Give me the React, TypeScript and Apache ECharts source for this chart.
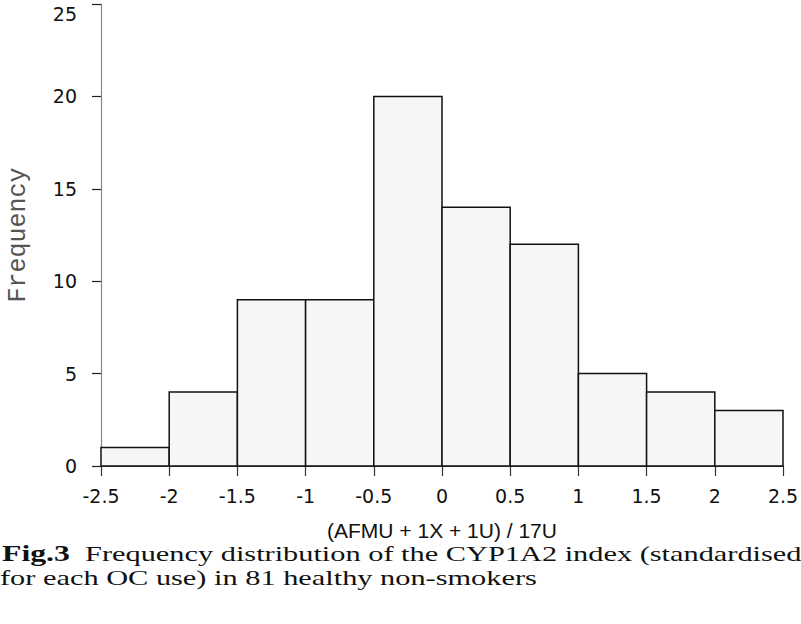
import React, { useEffect, useRef } from "react";
import * as echarts from "echarts";

const binStarts = [-2.5, -2, -1.5, -1, -0.5, 0, 0.5, 1, 1.5, 2];
const binWidth = 0.5;
const frequencies = [1, 4, 9, 9, 20, 14, 12, 5, 4, 3];
const xTitle = "(AFMU + 1X + 1U) / 17U";
const yTitle = "Frequency";
const captionBold = "Fig.3";
const captionLine1 = "Frequency distribution of the CYP1A2 index (standardised";
const captionLine2 = "for each OC use) in 81 healthy non-smokers";

export default function App() {
  const ref = useRef<HTMLDivElement>(null);
  useEffect(() => {
    if (!ref.current) return;
    const chart = echarts.init(ref.current, undefined, { renderer: "svg" });
    const data = binStarts.map((s, i) => [s, s + binWidth, frequencies[i]]);
    chart.setOption({
      animation: false,
      backgroundColor: "#ffffff",
      grid: {
        left: 101,
        right: 18,
        top: 4,
        bottom: 158,
        containLabel: false,
        outerBoundsMode: "none",
      },
      xAxis: {
        type: "value",
        min: -2.5,
        max: 2.5,
        interval: 0.5,
        axisLine: { show: true, onZero: false, lineStyle: { color: "#111", width: 1.5 } },
        axisTick: { show: true, length: 10, lineStyle: { color: "#333", width: 1.2 } },
        axisLabel: {
          margin: 20,
          fontFamily: "DejaVu Sans",
          fontSize: 19,
          color: "#111",
          formatter: (v: number) => String(v),
        },
        splitLine: { show: false },
        name: xTitle,
        nameLocation: "middle",
        nameGap: 54,
        nameTextStyle: { fontFamily: "Liberation Sans", fontSize: 21, color: "#111" },
      },
      yAxis: {
        type: "value",
        min: 0,
        max: 25,
        interval: 5,
        axisLine: { show: true, onZero: false, lineStyle: { color: "#888", width: 1.2 } },
        axisTick: { show: true, length: 9, lineStyle: { color: "#222", width: 1.2 } },
        axisLabel: {
          margin: 24,
          fontFamily: "DejaVu Sans",
          fontSize: 19,
          color: "#111",
          verticalAlignMaxLabel: "top",
        },
        splitLine: { show: false },
        name: yTitle,
        nameLocation: "middle",
        nameGap: 72,
        nameTextStyle: {
          fontFamily: "Liberation Mono",
          fontSize: 25,
          lineHeight: 22,
          color: "#555",
        },
      },
      series: [
        {
          type: "custom",
          data,
          encode: { x: [0, 1], y: 2 },
          renderItem: (params: any, api: any) => {
            const p0 = api.coord([api.value(0), api.value(2)]);
            const p1 = api.coord([api.value(1), 0]);
            return {
              type: "rect",
              shape: { x: p0[0], y: p0[1], width: p1[0] - p0[0], height: p1[1] - p0[1] },
              style: { fill: "#f6f6f6", stroke: "#111", lineWidth: 1.5 },
            };
          },
        },
      ],
      graphic: [
        {
          type: "text",
          x: 2,
          y: 542,
          scaleX: 1.38,
          style: {
            text: "{b|" + captionBold + "}  " + captionLine1,
            fontFamily: "Liberation Serif",
            fontSize: 22,
            fill: "#111",
            rich: {
              b: { fontFamily: "Liberation Serif", fontSize: 23, fontWeight: "bold", fill: "#111" },
            },
          },
        },
        {
          type: "text",
          x: 0,
          y: 567,
          scaleX: 1.38,
          style: {
            text: captionLine2,
            fontFamily: "Liberation Serif",
            fontSize: 22,
            fill: "#111",
          },
        },
      ],
    });
    return () => chart.dispose();
  }, []);
  return (
    <div
      ref={ref}
      style={{ position: "absolute", left: 0, top: 0, width: 801, height: 624 }}
    />
  );
}
